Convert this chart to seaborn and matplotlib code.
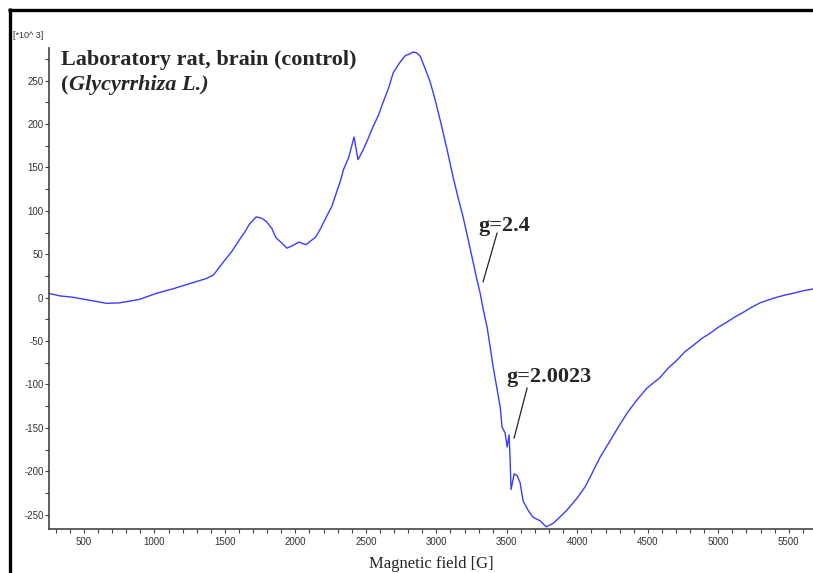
import numpy as np
import pandas as pd
import matplotlib
matplotlib.use("Agg")
import matplotlib.pyplot as plt
from matplotlib.lines import Line2D
from matplotlib.ticker import MultipleLocator
import seaborn as sns

# ---- data ----
field_G = [252, 330, 420, 540, 660, 752, 894, 1014, 1127, 1247, 1367, 1418, 1489, 1548,
           1600, 1643, 1671, 1702, 1721, 1761, 1792, 1832, 1862, 1903, 1940, 1980, 2025,
           2075, 2145, 2180, 2216, 2258, 2322, 2340, 2379, 2416, 2444, 2480, 2518, 2551,
           2589, 2622, 2660, 2694, 2737, 2780, 2801, 2836, 2861, 2886, 2920, 2957, 2991,
           3028, 3074, 3120, 3156, 3191, 3227, 3262, 3286, 3311, 3333, 3360, 3381, 3403,
           3428, 3453, 3466, 3488, 3502, 3516, 3523, 3530, 3552, 3573, 3594, 3615, 3651,
           3686, 3736, 3779, 3829, 3900, 3925, 3998, 4055, 4090, 4161, 4232, 4291, 4353,
           4422, 4495, 4587, 4646, 4707, 4765, 4822, 4883, 4942, 5001, 5063, 5120, 5176,
           5238, 5296, 5356, 5416, 5474, 5531, 5604, 5672]
signal_e3 = [5, 2, 0.5, -3, -6.5, -6, -2, 5, 10, 16, 22, 26, 41, 53,
             66, 76, 84, 89.5, 93, 91.5, 88, 80, 69, 63, 57, 60, 64,
             61, 70, 80, 92, 105, 136, 147, 162, 185, 159, 170, 184, 197,
             210, 225, 241, 259, 270, 279, 280, 283, 282, 278, 264, 248, 228,
             204, 172, 138, 114, 92, 66, 40, 22, 5, -14, -34, -56, -80,
             -103, -126, -149, -156, -172, -158, -186, -221, -203, -205, -213, -234, -245,
             -253, -257, -264, -260, -249, -245, -231, -218, -207, -184, -165, -149, -133,
             -118, -104, -92, -81, -72, -62, -55, -47, -41, -34, -28, -22, -17,
             -11, -6, -2.6, 0.5, 3, 5, 8, 10]

x_ticks = [500, 1000, 1500, 2000, 2500, 3000, 3500, 4000, 4500, 5000, 5500]
y_ticks = [-250, -200, -150, -100, -50, 0, 50, 100, 150, 200, 250]

title_line1 = "Laboratory rat, brain (control)"
title_line2_open = "("
title_line2_rest = "Glycyrrhiza L.)"
x_label = "Magnetic field [G]"
y_unit = "[*10^ 3]"
ann_labels = ["g=2.4", "g=2.0023"]
ann_text_pos = [(3301, 82), (3499, -91)]
ann_line_from = [(3431, 74.5), (3644, -104)]
ann_line_to = [(3331, 18), (3551, -162)]

df = pd.DataFrame({"field": field_G, "signal": signal_e3})

# ---- figure ----
sns.set_style("white")
W, H = 813, 573
fig = plt.figure(figsize=(W / 100, H / 100), dpi=100)
ax = fig.add_axes([49 / W, (H - 529) / H, (813 - 49) / W, (529 - 48) / H])

sns.lineplot(data=df, x="field", y="signal", ax=ax, color="#3c3cff", lw=1.0,
             sort=False, estimator=None)

ax.set_xlim(252, 5672)
ax.set_ylim(-266.5, 287.6)

tick_font = ["Liberation Sans Narrow", "Liberation Sans", "DejaVu Sans"]
ax.set_xticks(x_ticks)
ax.set_yticks(y_ticks)
ax.set_xticklabels([str(v) for v in x_ticks], family=tick_font, fontsize=7, color="#333333")
ax.set_yticklabels([str(v) for v in y_ticks], family=tick_font, fontsize=7, color="#333333")
ax.xaxis.set_minor_locator(MultipleLocator(100))
ax.yaxis.set_minor_locator(MultipleLocator(25))
ax.tick_params(axis="both", which="both", direction="out", length=3, width=0.8,
               color="#444444", bottom=True, left=True)
ax.tick_params(axis="x", which="major", pad=3)
ax.tick_params(axis="y", which="major", pad=1)

for s in ["top", "right"]:
    ax.spines[s].set_visible(False)
for s in ["left", "bottom"]:
    ax.spines[s].set_color("#444444")
    ax.spines[s].set_linewidth(1.2)

ax.set_xlabel(x_label, family=["Liberation Serif"], fontsize=12, labelpad=6)
ax.set_ylabel("")

# y-axis multiplier label
fig.text(13 / W, 1 - 38 / H, y_unit, family=tick_font, fontsize=6.5, color="#333333",
         va="baseline", ha="left")

# title
serif = ["Liberation Serif", "DejaVu Serif"]
fig.text(61 / W, 1 - 65.5 / H, title_line1, family=serif, fontsize=16,
         fontweight="bold", va="baseline", ha="left")
t_open = fig.text(61 / W, 1 - 90.5 / H, title_line2_open, family=serif, fontsize=16,
                  fontweight="bold", va="baseline", ha="left")
fig.canvas.draw()
bb = t_open.get_window_extent()
fig.text((bb.x1 + 0.5) / W, 1 - 90.5 / H, title_line2_rest, family=serif, fontsize=16,
         fontweight="bold", fontstyle="italic", va="baseline", ha="left")

# annotations
for lab, tp, lf, lt in zip(ann_labels, ann_text_pos, ann_line_from, ann_line_to):
    ax.text(tp[0], tp[1], lab, family=serif, fontsize=16, fontweight="bold",
            va="center", ha="left")
    ax.plot([lf[0], lt[0]], [lf[1], lt[1]], color="#222222", lw=0.9)

# outer frame (left and top thick lines)
fig.add_artist(Line2D([9.5 / W, 9.5 / W], [0, 1 - 8 / H], transform=fig.transFigure,
                      color="black", lw=2.4, solid_capstyle="butt"))
fig.add_artist(Line2D([8 / W, 1], [1 - 9.5 / H, 1 - 9.5 / H], transform=fig.transFigure,
                      color="black", lw=2.4, solid_capstyle="butt"))

fig.savefig("out.png", dpi=100)
